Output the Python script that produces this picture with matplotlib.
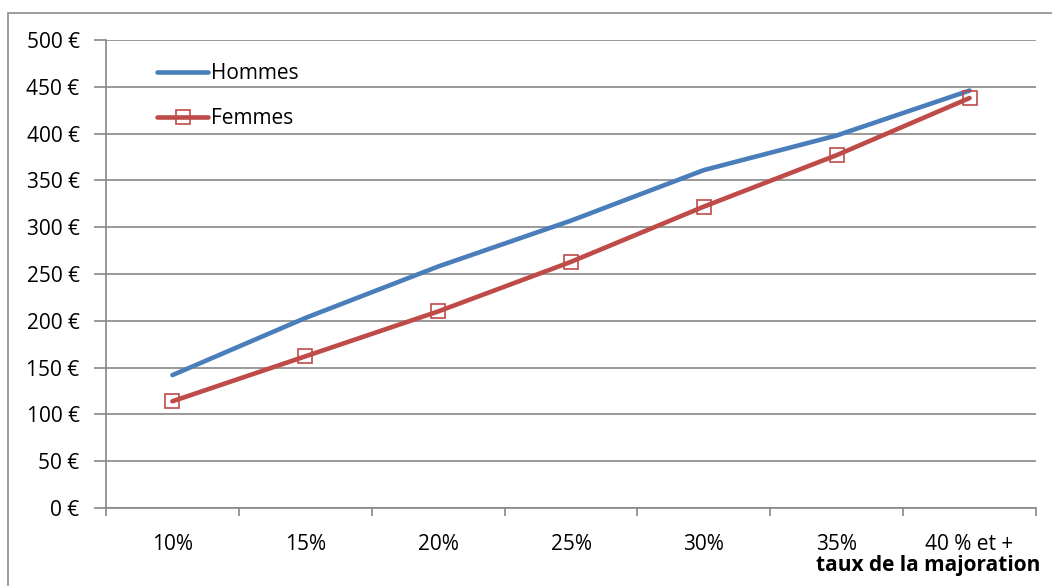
import matplotlib.pyplot as plt
from matplotlib.patches import Rectangle

# Montant moyen selon le taux de la majoration
categories = ["10%", "15%", "20%", "25%", "30%", "35%", "40 % et +"]
hommes = [142, 203, 258, 307, 361, 398, 446]
femmes = [114, 162, 210, 263, 322, 377, 438]
yticks = [0, 50, 100, 150, 200, 250, 300, 350, 400, 450, 500]

plt.rcParams['font.family'] = ['Open Sans', 'DejaVu Sans']
FS = 15

W, H = 1052, 586
fig = plt.figure(figsize=(W / 100, H / 100), dpi=100)
ax = fig.add_axes([106 / W, (H - 508) / H, (1036 - 106) / W, (508 - 40) / H])

# Cadre extérieur du graphique (coupé à droite et en bas)
fig.patches.append(Rectangle((8 / W, -0.1), 1.2, (H - 13) / H + 0.1,
                             transform=fig.transFigure, fill=False,
                             edgecolor='#8c8c8c', linewidth=1.2))

x = list(range(len(categories)))
ax.plot(x, hommes, color='#4A7EBB', linewidth=3.3, solid_capstyle='round',
        label='Hommes', zorder=3)
ax.plot(x, femmes, color='#BE4B48', linewidth=3.3, solid_capstyle='round',
        marker='s', markersize=10, markerfacecolor='none',
        markeredgecolor='#BE4B48', markeredgewidth=1.2,
        label='Femmes', zorder=3)

ax.set_xlim(-0.5, len(categories) - 0.5)
ax.set_ylim(0, 500)
ax.set_yticks(yticks)
ax.set_yticklabels([f"{v} €" for v in yticks], fontsize=FS)
ax.yaxis.grid(True, color='#878787', linewidth=1.2)
ax.set_axisbelow(True)

ax.set_xticks([i - 0.5 for i in range(len(categories) + 1)])
ax.set_xticklabels([])
ax.set_xticks(x, minor=True)
ax.set_xticklabels(categories, minor=True, fontsize=FS)
ax.tick_params(axis='x', which='major', length=6, color='#878787', width=1.2)
ax.tick_params(axis='x', which='minor', length=0, pad=19)
ax.tick_params(axis='y', length=9, color='#878787', width=1.2, pad=10)

for side in ['top', 'right']:
    ax.spines[side].set_visible(False)
for side in ['left', 'bottom']:
    ax.spines[side].set_color('#878787')
    ax.spines[side].set_linewidth(1.2)

fig.text(1040 / W, (H - 566) / H, "taux de la majoration", ha='right',
         va='center', fontsize=FS, fontweight='bold')

ax.legend(loc='upper left', bbox_to_anchor=(0.035, 0.99), frameon=False,
          fontsize=FS, handlelength=2.45, handletextpad=0.15, labelspacing=1.15)

fig.savefig("out.png", dpi=100)
